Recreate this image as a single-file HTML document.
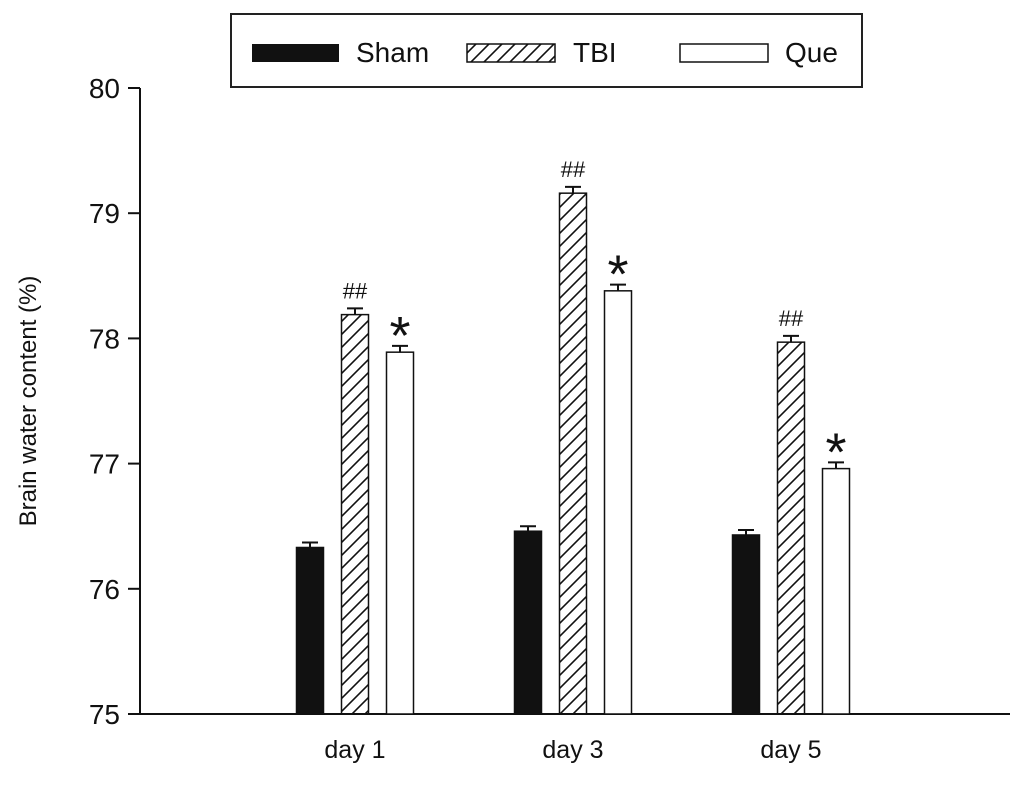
<!DOCTYPE html>
<html><head><meta charset="utf-8"><style>
body{margin:0;background:#fff}
svg text{font-family:"Liberation Sans",Arial,sans-serif;fill:#111}
</style></head><body>
<svg id="c" width="1022" height="782" viewBox="0 0 1022 782">
<defs><pattern id="hatch" patternUnits="userSpaceOnUse" width="13" height="13">
<path d="M-2,15 L15,-2 M-2,2 L2,-2 M11,15 L15,11" stroke="#111" stroke-width="1.6"/></pattern></defs>
<g id="legend">
<rect x="231" y="14" width="631" height="73" fill="#fff" stroke="#222" stroke-width="2"/>
<rect x="252" y="44" width="87" height="18" fill="#111"/>
<text x="356" y="62" font-size="28">Sham</text>
<rect x="467" y="44" width="88" height="18" fill="url(#hatch)" stroke="#111" stroke-width="1.5"/>
<text x="573" y="62" font-size="28">TBI</text>
<rect x="680" y="44" width="88" height="18" fill="#fff" stroke="#111" stroke-width="1.5"/>
<text x="785" y="62" font-size="28">Que</text>
</g>
<g id="axes"></g>
<g id="bars"></g>
<text transform="translate(36,401) rotate(-90)" text-anchor="middle" font-size="24">Brain water content (%)</text>
</svg>
<script>
const categories=["day 1","day 3","day 5"];
const sham=[76.33,76.46,76.43];
const tbi=[78.19,79.16,77.97];
const que=[77.89,78.38,76.96];
const shamErr=[0.04,0.04,0.04];
const tbiErr=[0.05,0.05,0.05];
const queErr=[0.05,0.05,0.05];
const tbiMarks=["##","##","##"];
const queMarks=["*","*","*"];
const yTicks=[75,76,77,78,79,80];
const NS="http://www.w3.org/2000/svg";
const y0=714,yTop=88,vmin=75,vmax=80;
const Y=v=>y0-(v-vmin)/(vmax-vmin)*(y0-yTop);
const groupCenter=i=>355+i*218;
const barW=27,off=45;
function mk(tag,attrs,parent,text){const e=document.createElementNS(NS,tag);for(const k in attrs)e.setAttribute(k,attrs[k]);if(text!==undefined)e.textContent=text;parent.appendChild(e);return e;}
const ax=document.getElementById('axes'),bg=document.getElementById('bars');
let l=mk('line',{x1:140,y1:yTop,x2:140,y2:y0,stroke:'#111','stroke-width':2},ax);


l=mk('line',{x1:140,y1:y0,x2:1010,y2:y0,stroke:'#111','stroke-width':2},ax);


yTicks.forEach(t=>{const y=Y(t);
const tk=mk('line',{x1:128,y1:y,x2:140,y2:y,stroke:'#111','stroke-width':2},ax);


const tx=mk('text',{x:120,y:y+10,'text-anchor':'end','font-size':28},ax,String(t));

});
categories.forEach((c,i)=>{
const tx=mk('text',{x:groupCenter(i),y:758,'text-anchor':'middle','font-size':25},ax,c);


const series=[[sham,shamErr,'#111','sham',null],[tbi,tbiErr,'url(#hatch)','tbi',tbiMarks],[que,queErr,'#fff','que',queMarks]];
series.forEach((s,j)=>{
const x=groupCenter(i)+(j-1)*off-barW/2,v=s[0][i],top=Y(v);
const r=mk('rect',{x:x,y:top,width:barW,height:y0-top,fill:s[2],stroke:'#111','stroke-width':1.5},bg);


const ey=Y(v+s[1][i]),cx=x+barW/2;
const e=mk('path',{d:`M${cx},${top} L${cx},${ey} M${cx-8},${ey} L${cx+8},${ey}`,stroke:'#111','stroke-width':2,fill:'none'},bg);


if(s[4]){const star=s[4][i]==='*';
const m=mk('text',{x:cx,y:star?ey+8:ey-10,'text-anchor':'middle','font-size':star?54:22},bg,s[4][i]);

}
});
});
</script>
</body></html>
